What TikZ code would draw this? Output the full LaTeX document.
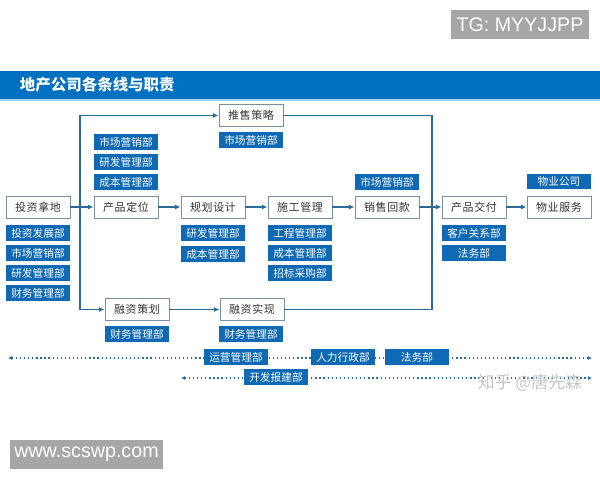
\documentclass[tikz,border=0pt]{standalone}
\usepackage{fontspec}
\setmainfont{Noto Sans CJK SC}
\newfontfamily\latinsans{Liberation Sans}
\newfontfamily\stagefont[LetterSpace=6]{Noto Sans CJK SC}
\definecolor{headblue}{HTML}{0070C0}
\definecolor{headline}{HTML}{9DD3F0}
\definecolor{deptblue}{HTML}{0F69B4}
\definecolor{linkblue}{HTML}{2B6A99}
\definecolor{framegray}{HTML}{7A8FA3}
\definecolor{taggray}{HTML}{A6A6A6}
\usetikzlibrary{arrows.meta}

\begin{document}
\begin{tikzpicture}[x=0.025cm, y=-0.025cm,
  stage/.style={draw=framegray, fill=white, line width=0.6pt,
              minimum width=1.6cm, minimum height=0.55cm, inner sep=0pt,
              font=\stagefont\fontsize{7.8}{8}\selectfont, text=black!80},
  dept/.style={fill=deptblue, text=white, minimum width=1.6cm,
              minimum height=0.38cm, inner sep=0pt,
              font=\fontsize{7.6}{8}\selectfont},
  flow/.style={draw=linkblue, line width=0.8pt, -{Latex[length=4pt,width=3.5pt]}},
  link/.style={draw=linkblue, line width=0.8pt},
  dotline/.style={draw=linkblue, line width=0.9pt, dotted,
              {Latex[length=3pt,width=3pt]}-{Latex[length=3pt,width=3pt]}},
  tag/.style={fill=taggray, text=white, inner sep=0pt, minimum height=0.725cm,
              font=\latinsans\fontsize{14}{16}\selectfont},
]
\fill[white] (0,0) rectangle (600,480);
\useasboundingbox (0,0) rectangle (600,480);

\node[tag, minimum width=3.45cm] (tg) at (520,24.5) {TG: MYYJJPP};
\node[tag, minimum width=3.825cm] (web) at (86.5,454.5) {www.scswp.com};

\fill[headblue] (0,71) rectangle (600,99);
\fill[headline] (0,99) rectangle (600,100.5);
\node[anchor=west, text=white, font=\bfseries\fontsize{11}{12}\selectfont] (title) at (15,85) {地产公司各条线与职责};

\coordinate (opsL) at (8,358);
\coordinate (opsR) at (592,358);
\coordinate (devL) at (181,378);
\coordinate (devR) at (592,378);
\draw[dotline] (opsL) -- (opsR);
\draw[dotline] (devL) -- (devR);

\node[stage] (touzi) at (38,207) {投资拿地};
\node[stage] (dingwei) at (126,207) {产品定位};
\node[stage] (guihua) at (213,207) {规划设计};
\node[stage] (shigong) at (300,207) {施工管理};
\node[stage] (xiaoshou) at (387,207) {销售回款};
\node[stage] (jiaofu) at (474,207) {产品交付};
\node[stage] (wuye) at (559,207) {物业服务};
\node[stage] (tuishou) at (251,115.5) {推售策略};
\node[stage] (rongce) at (137,309.5) {融资策划};
\node[stage] (rongshi) at (252,309.5) {融资实现};

\node[dept] (touzi1) at (38,233) {投资发展部};
\node[dept] (touzi2) at (38,253) {市场营销部};
\node[dept] (touzi3) at (38,273) {研发管理部};
\node[dept] (touzi4) at (38,293) {财务管理部};

\node[dept] (dingwei1) at (126,142) {市场营销部};
\node[dept] (dingwei2) at (126,162) {研发管理部};
\node[dept] (dingwei3) at (126,182) {成本管理部};

\node[dept] (guihua1) at (213,233) {研发管理部};
\node[dept] (guihua2) at (213,254) {成本管理部};

\node[dept] (shigong1) at (300,233) {工程管理部};
\node[dept] (shigong2) at (300,253) {成本管理部};
\node[dept] (shigong3) at (300,273) {招标采购部};

\node[dept] (xiaoshou1) at (387,182) {市场营销部};
\node[dept] (tuishou1) at (251,140) {市场营销部};
\node[dept] (wuye1) at (559,181.5) {物业公司};
\node[dept] (jiaofu1) at (474,233) {客户关系部};
\node[dept] (jiaofu2) at (474,253) {法务部};
\node[dept] (rongce1) at (137,334) {财务管理部};
\node[dept] (rongshi1) at (251,334) {财务管理部};

\node[dept] (yunying) at (236,357) {运营管理部};
\node[dept] (renli) at (343,357) {人力行政部};
\node[dept] (fawu) at (417,357) {法务部};
\node[dept] (baojian) at (276,377) {开发报建部};

\node[text=black!22, font=\fontsize{12}{14}\selectfont] (mark) at (530,383) {知乎 @唐先森};

\coordinate (splitL) at (80,207);
\coordinate (splitR) at (432,207);
\draw[flow] (touzi) -- (dingwei);
\draw[flow] (dingwei) -- (guihua);
\draw[flow] (guihua) -- (shigong);
\draw[flow] (shigong) -- (xiaoshou);
\draw[flow] (xiaoshou) -- (jiaofu);
\draw[flow] (jiaofu) -- (wuye);
\draw[flow] (splitL) |- (tuishou.west);
\draw[flow] (splitL) |- (rongce.west);
\draw[flow] (rongce) -- (rongshi);
\draw[link] (tuishou.east) -| (splitR);
\draw[link] (rongshi.east) -| (splitR);
\end{tikzpicture}
\end{document}
